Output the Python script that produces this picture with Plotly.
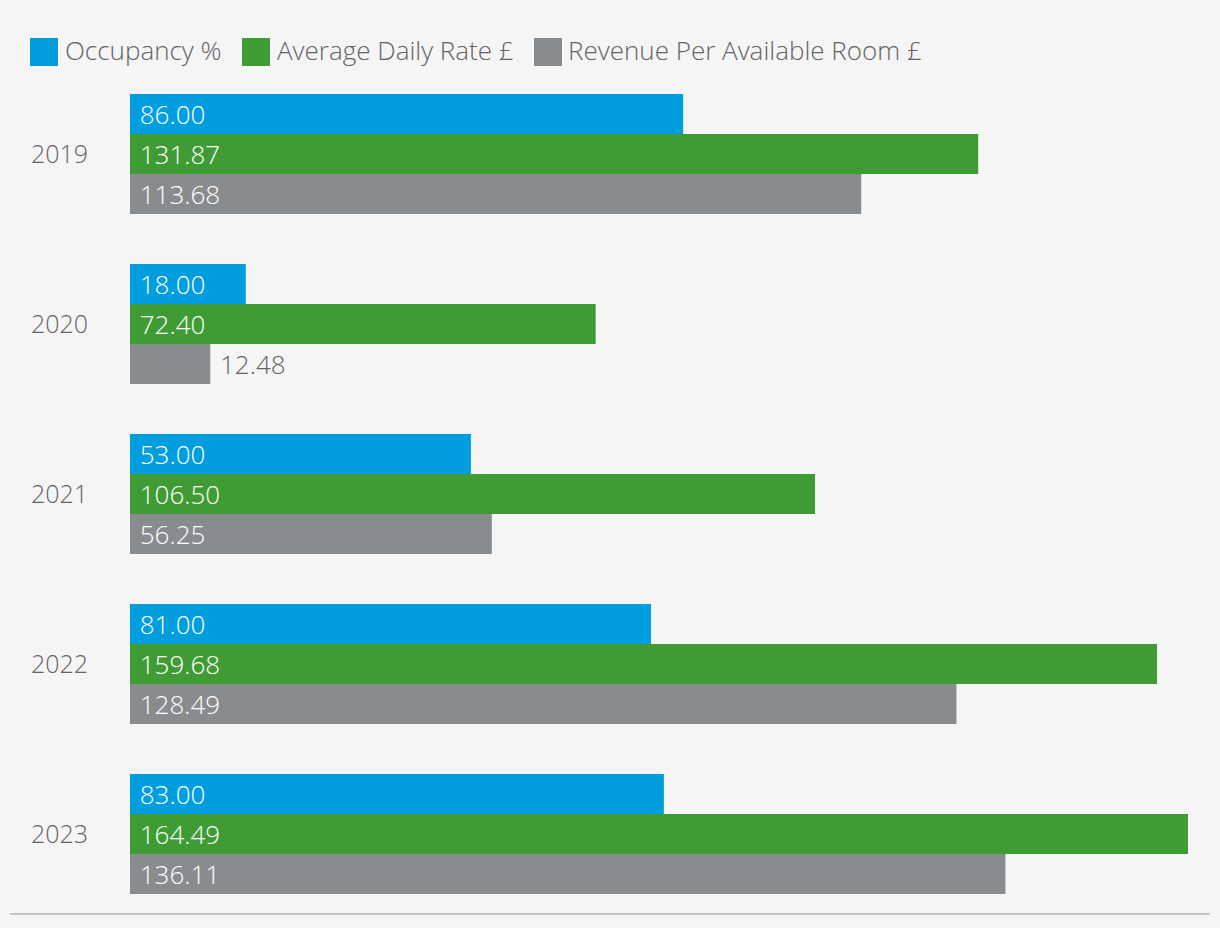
import plotly.graph_objects as go

years = ["2019", "2020", "2021", "2022", "2023"]
occupancy = [86.00, 18.00, 53.00, 81.00, 83.00]
adr = [131.87, 72.40, 106.50, 159.68, 164.49]
revpar = [113.68, 12.48, 56.25, 128.49, 136.11]
series_names = ["Occupancy %", "Average Daily Rate £", "Revenue Per Available Room £"]
colors = ["#009ddf", "#3f9c35", "#898c8e"]

W, H = 1220, 928
L, R, T, B = 130, 10, 69, 9
PW, PH = W - L - R, H - T - B
FONT = "Open Sans"
TXT = "#636466"
WEIGHT = 300

def px(x):
    return (x - L) / PW

def py(y):
    return (H - B - y) / PH

fig = go.Figure()
for name, vals, col in zip(series_names, [occupancy, adr, revpar], colors):
    fig.add_trace(go.Bar(
        y=years, x=vals, orientation="h", name=name,
        marker=dict(color=col, line=dict(width=0)),
        text=["\u00a0" + f"{v:.2f}" for v in vals],
        textposition=["outside" if v < 15 else "inside" for v in vals],
        insidetextanchor="start",
        constraintext="none", cliponaxis=False,
        insidetextfont=dict(color="white", size=26, family=FONT, weight=WEIGHT),
        outsidetextfont=dict(color=TXT, size=26, family=FONT, weight=WEIGHT),
        hoverinfo="x+y",
    ))

shapes = []
annotations = []
legend_x = [(30, 65), (242, 277), (534, 568)]
for (sx, tx), name, col in zip(legend_x, series_names, colors):
    shapes.append(dict(type="rect", xref="paper", yref="paper",
                       x0=px(sx), x1=px(sx + 28), y0=py(66), y1=py(38),
                       fillcolor=col, line=dict(width=0)))
    annotations.append(dict(xref="paper", yref="paper", x=px(tx - 2), y=py(50),
                            xanchor="left", yanchor="middle", text=name, showarrow=False,
                            font=dict(size=26, color=TXT, family=FONT, weight=WEIGHT)))
shapes.append(dict(type="line", xref="paper", yref="paper",
                   x0=px(10), x1=px(1210), y0=py(914), y1=py(914),
                   line=dict(color="#c4c4c4", width=2)))

fig.update_layout(
    width=W, height=H,
    margin=dict(l=L, r=R, t=T, b=B),
    paper_bgcolor="#f5f5f5", plot_bgcolor="#f5f5f5",
    barmode="group", bargap=50 / 170, bargroupgap=0,
    showlegend=False,
    font=dict(family=FONT, size=24, color=TXT, weight=WEIGHT),
    xaxis=dict(range=[0, PW / (1058 / 164.49)], visible=False, fixedrange=True),
    yaxis=dict(autorange="reversed", showgrid=False, zeroline=False, showline=False,
               ticks="", ticklabelstandoff=41, fixedrange=True,
               tickfont=dict(size=25, color=TXT, family=FONT, weight=WEIGHT)),
    shapes=shapes, annotations=annotations,
)

fig.write_html("out.html", config={"displayModeBar": False},
               post_script="document.body.style.margin='0';document.body.style.background='#f5f5f5';")
